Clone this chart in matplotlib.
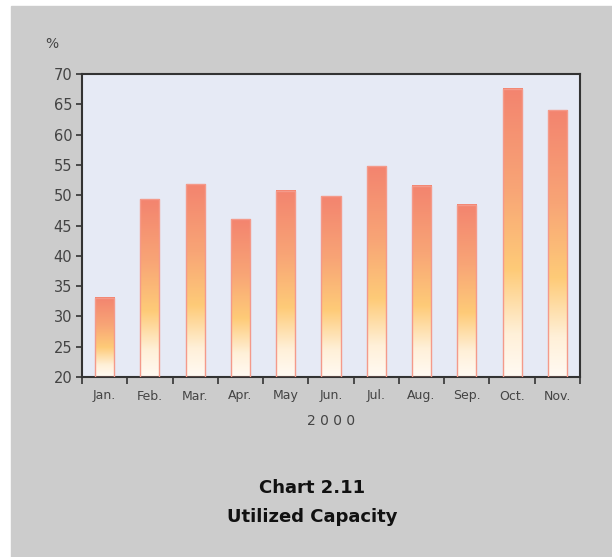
import numpy as np
import matplotlib
matplotlib.use("Agg")
import matplotlib.pyplot as plt
from matplotlib.colors import LinearSegmentedColormap
from matplotlib.patches import Rectangle

months = ["Jan.", "Feb.", "Mar.", "Apr.", "May", "Jun.", "Jul.", "Aug.", "Sep.", "Oct.", "Nov."]
capacity = [33.1, 49.3, 51.8, 46.0, 50.7, 49.8, 54.8, 51.6, 48.4, 67.6, 64.0]
yticks = [20, 25, 30, 35, 40, 45, 50, 55, 60, 65, 70]

TXT = "#444444"
grad = LinearSegmentedColormap.from_list(
    "bar", [(0.0, "#fffaf3"), (0.15, "#fff0d8"), (0.37, "#fecb78"),
            (0.65, "#f8a576"), (1.0, "#f3846f")])

fig = plt.figure(figsize=(6.12, 5.57), dpi=100)
fig.patch.set_facecolor("white")
fig.patches.append(Rectangle((11/612, 0), 1 - 11/612, (557 - 6)/557,
                             transform=fig.transFigure, color="#cccccc", zorder=-5))

ax = fig.add_axes([82/612, (557 - 377)/557, (580 - 82)/612, (377 - 74)/557])
ax.set_zorder(2)
ax.set_facecolor("#e6eaf5")
x = np.arange(len(months))
bars = ax.bar(x, np.array(capacity) - 20, bottom=20, width=0.42,
              facecolor="none", edgecolor="#f49a8a", linewidth=1.0, zorder=3)

g = np.linspace(0, 1, 256).reshape(-1, 1)
for b in bars:
    x0, w, top = b.get_x(), b.get_width(), b.get_y() + b.get_height()
    ax.imshow(g, cmap=grad, origin="lower", aspect="auto",
              extent=[x0, x0 + w, 20, top], zorder=2)

ax.set_xlim(-0.5, len(months) - 0.5)
ax.set_ylim(20, 70)
ax.set_yticks(yticks)
ax.set_yticklabels([str(v) for v in yticks])
ax.set_xticks(x)
ax.set_xticklabels(months)
ax.set_xticks(np.arange(-0.5, len(months)), minor=True)
ax.tick_params(axis="x", which="major", length=0, pad=9, labelsize=9, labelcolor=TXT)
ax.tick_params(axis="x", which="minor", length=5, width=1.2, color="#333333", direction="out")
ax.tick_params(axis="y", length=4, width=1.2, color="#333333", pad=3, labelsize=10.5,
               labelcolor=TXT)
for s in ax.spines.values():
    s.set_color("#333333")
    s.set_linewidth(1.5)

fig.text(52/612, 1 - 44/557, "%", fontsize=10, color=TXT, ha="center", va="center")
fig.text(331/612, 1 - 421/557, "2 0 0 0", fontsize=10, color=TXT, ha="center", va="center")
fig.text(312/612, 1 - 488/557, "Chart 2.11", fontsize=13, fontweight="bold",
         color="#111111", ha="center", va="center")
fig.text(312/612, 1 - 517/557, "Utilized Capacity", fontsize=13, fontweight="bold",
         color="#111111", ha="center", va="center")

fig.savefig("out.png", dpi=100)
